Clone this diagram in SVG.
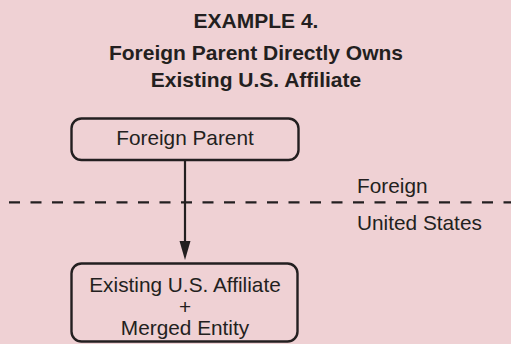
<svg xmlns="http://www.w3.org/2000/svg" width="511" height="344" viewBox="0 0 511 344">
<defs>
<style>
.t{font-family:"Liberation Sans",Arial,Helvetica,sans-serif;fill:#231f20;text-anchor:middle}
.b{font-weight:bold;font-size:21px}
.n{font-size:20.8px}
.box{fill:none;stroke:#231f20;stroke-width:2.4}
.ln{stroke:#231f20;stroke-width:2.2;fill:none}
</style>
<marker id="ah" viewBox="0 0 10 18" refX="10" refY="9" markerWidth="10" markerHeight="18" markerUnits="userSpaceOnUse" orient="auto">
<path d="M0,4 L10,9 L0,14 Z" fill="#231f20" transform="rotate(0)"/>
</marker>
</defs>
<rect width="511" height="344" fill="#efd1d4"/>
<g id="title">
<text class="t b" x="256" y="28">EXAMPLE 4.</text>
<text class="t b" x="256" y="60">Foreign Parent Directly Owns</text>
<text class="t b" x="256" y="87">Existing U.S. Affiliate</text>
</g>
<g id="boundary">
<line class="ln" x1="9" y1="202.3" x2="511" y2="202.3" stroke-dasharray="11 10.5"/>
<text class="t n" x="357" y="193" style="text-anchor:start">Foreign</text>
<text class="t n" x="357" y="230" style="text-anchor:start">United States</text>
</g>
<g id="connectors">
<line class="ln" x1="185" y1="160" x2="185" y2="242"/>
<path d="M179.5,241 L190.5,241 L185,260 Z" fill="#231f20"/>
</g>
<g id="foreign-parent">
<rect class="box" x="71.5" y="118.5" width="227" height="41.5" rx="10"/>
<text class="t n" x="185" y="145">Foreign Parent</text>
</g>
<g id="us-affiliate">
<rect class="box" x="71.5" y="263.5" width="226" height="78" rx="10"/>
<text class="t n" x="185" y="292">Existing U.S. Affiliate</text>
<text class="t n" x="185" y="314">+</text>
<text class="t n" x="185" y="335">Merged Entity</text>
</g>
</svg>
